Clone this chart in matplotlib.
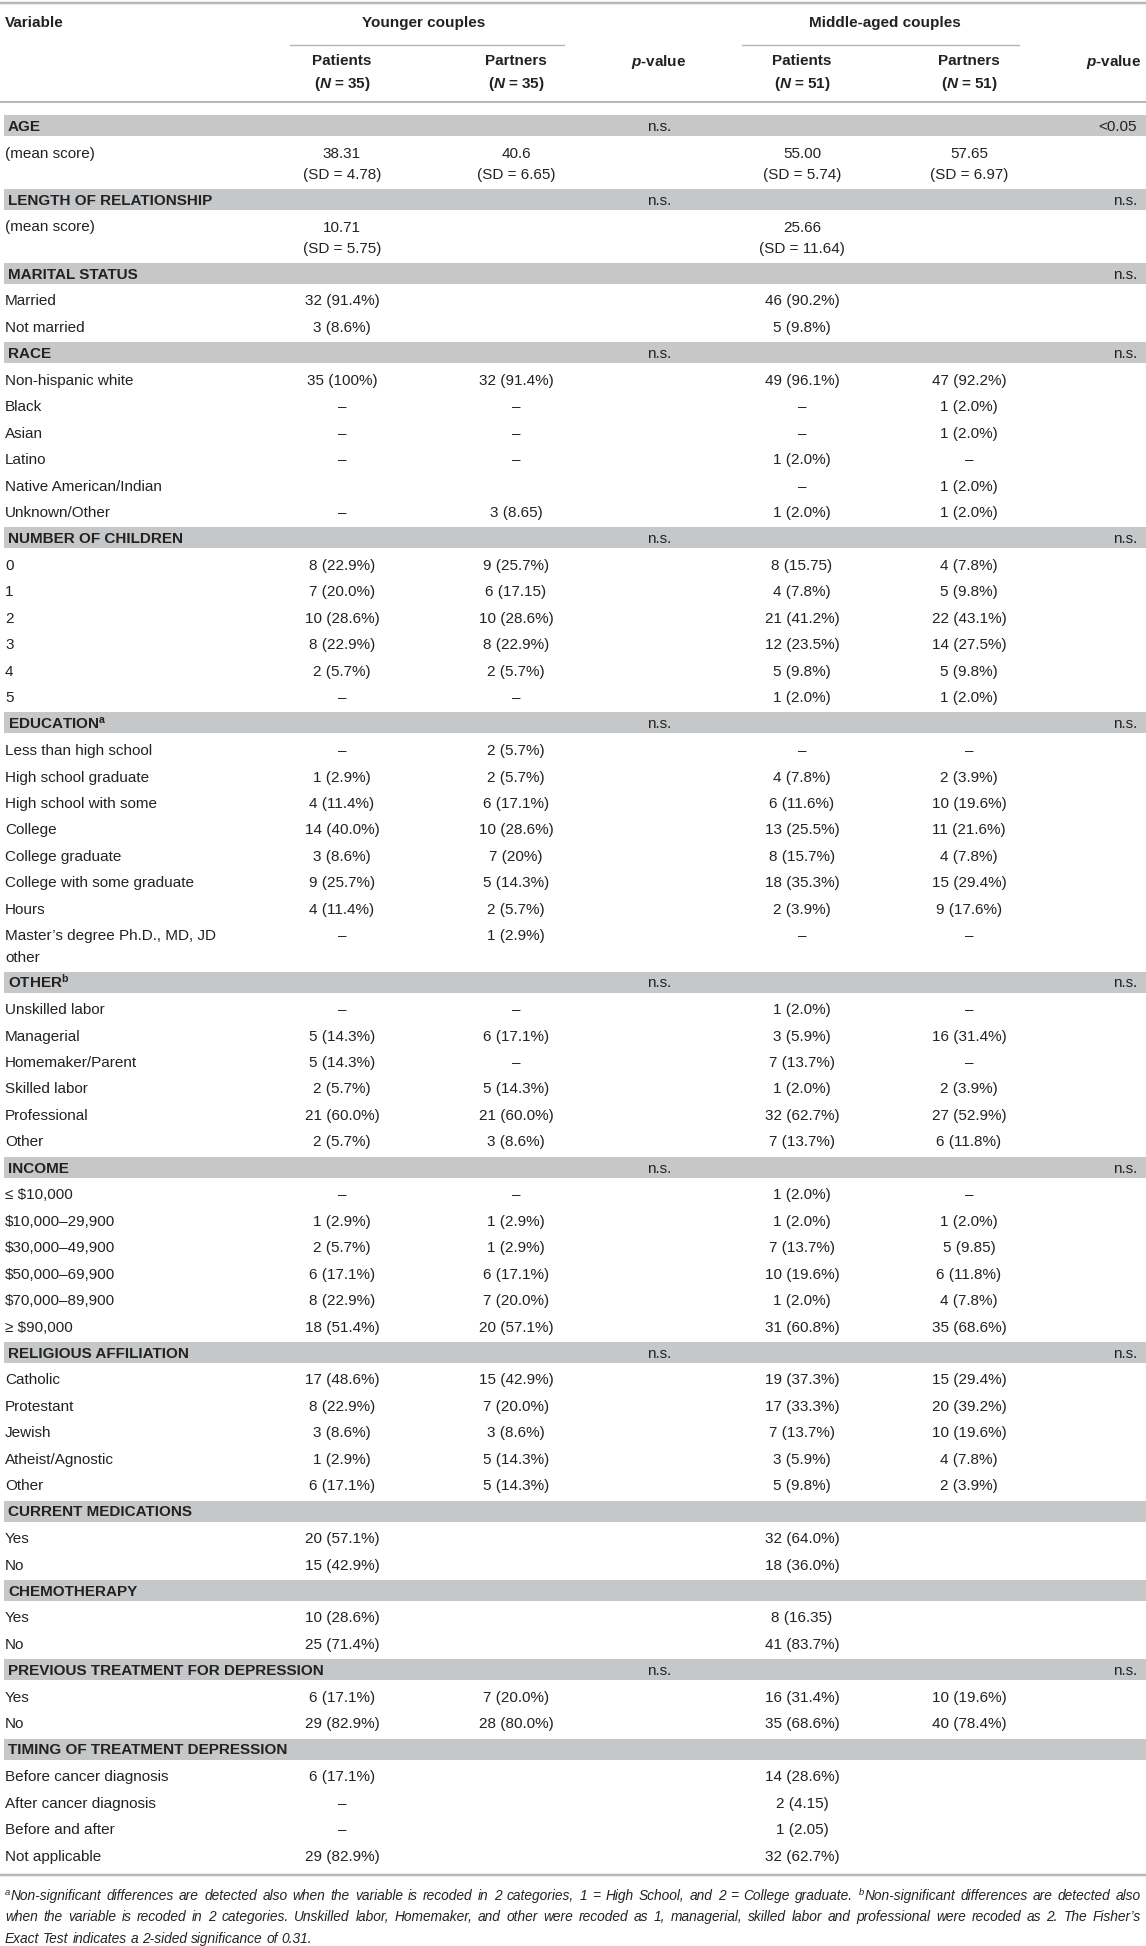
import matplotlib.pyplot as plt
from matplotlib.patches import Rectangle

# ---- table content -------------------------------------------------------
labels = [
    "AGE", "(mean score)",
    "LENGTH OF RELATIONSHIP", "(mean score)",
    "MARITAL STATUS", "Married", "Not married",
    "RACE", "Non-hispanic white", "Black", "Asian", "Latino",
    "Native American/Indian", "Unknown/Other",
    "NUMBER OF CHILDREN", "0", "1", "2", "3", "4", "5",
    "EDUCATION$^{\\mathbf{a}}$", "Less than high school", "High school graduate",
    "High school with some", "College", "College graduate",
    "College with some graduate", "Hours", "Master\u2019s degree Ph.D., MD, JD\nother",
    "OTHER$^{\\mathbf{b}}$", "Unskilled labor", "Managerial", "Homemaker/Parent",
    "Skilled labor", "Professional", "Other",
    "INCOME", "\u2264 $10,000", "$10,000\u201329,900", "$30,000\u201349,900",
    "$50,000\u201369,900", "$70,000\u201389,900", "\u2265 $90,000",
    "RELIGIOUS AFFILIATION", "Catholic", "Protestant", "Jewish",
    "Atheist/Agnostic", "Other",
    "CURRENT MEDICATIONS", "Yes", "No",
    "CHEMOTHERAPY", "Yes", "No",
    "PREVIOUS TREATMENT FOR DEPRESSION", "Yes", "No",
    "TIMING OF TREATMENT DEPRESSION", "Before cancer diagnosis",
    "After cancer diagnosis", "Before and after", "Not applicable",
]

D = "\u2013"

young_patients = [
    "", "38.31\n(SD = 4.78)",
    "", "10.71\n(SD = 5.75)",
    "", "32 (91.4%)", "3 (8.6%)",
    "", "35 (100%)", D, D, D, "", D,
    "", "8 (22.9%)", "7 (20.0%)", "10 (28.6%)", "8 (22.9%)", "2 (5.7%)", D,
    "", D, "1 (2.9%)", "4 (11.4%)", "14 (40.0%)", "3 (8.6%)", "9 (25.7%)", "4 (11.4%)", D,
    "", D, "5 (14.3%)", "5 (14.3%)", "2 (5.7%)", "21 (60.0%)", "2 (5.7%)",
    "", D, "1 (2.9%)", "2 (5.7%)", "6 (17.1%)", "8 (22.9%)", "18 (51.4%)",
    "", "17 (48.6%)", "8 (22.9%)", "3 (8.6%)", "1 (2.9%)", "6 (17.1%)",
    "", "20 (57.1%)", "15 (42.9%)",
    "", "10 (28.6%)", "25 (71.4%)",
    "", "6 (17.1%)", "29 (82.9%)",
    "", "6 (17.1%)", D, D, "29 (82.9%)",
]

young_partners = [
    "", "40.6\n(SD = 6.65)",
    "", "",
    "", "", "",
    "", "32 (91.4%)", D, D, D, "", "3 (8.65)",
    "", "9 (25.7%)", "6 (17.15)", "10 (28.6%)", "8 (22.9%)", "2 (5.7%)", D,
    "", "2 (5.7%)", "2 (5.7%)", "6 (17.1%)", "10 (28.6%)", "7 (20%)", "5 (14.3%)", "2 (5.7%)", "1 (2.9%)",
    "", D, "6 (17.1%)", D, "5 (14.3%)", "21 (60.0%)", "3 (8.6%)",
    "", D, "1 (2.9%)", "1 (2.9%)", "6 (17.1%)", "7 (20.0%)", "20 (57.1%)",
    "", "15 (42.9%)", "7 (20.0%)", "3 (8.6%)", "5 (14.3%)", "5 (14.3%)",
    "", "", "",
    "", "", "",
    "", "7 (20.0%)", "28 (80.0%)",
    "", "", "", "", "",
]

middle_patients = [
    "", "55.00\n(SD = 5.74)",
    "", "25.66\n(SD = 11.64)",
    "", "46 (90.2%)", "5 (9.8%)",
    "", "49 (96.1%)", D, D, "1 (2.0%)", D, "1 (2.0%)",
    "", "8 (15.75)", "4 (7.8%)", "21 (41.2%)", "12 (23.5%)", "5 (9.8%)", "1 (2.0%)",
    "", D, "4 (7.8%)", "6 (11.6%)", "13 (25.5%)", "8 (15.7%)", "18 (35.3%)", "2 (3.9%)", D,
    "", "1 (2.0%)", "3 (5.9%)", "7 (13.7%)", "1 (2.0%)", "32 (62.7%)", "7 (13.7%)",
    "", "1 (2.0%)", "1 (2.0%)", "7 (13.7%)", "10 (19.6%)", "1 (2.0%)", "31 (60.8%)",
    "", "19 (37.3%)", "17 (33.3%)", "7 (13.7%)", "3 (5.9%)", "5 (9.8%)",
    "", "32 (64.0%)", "18 (36.0%)",
    "", "8 (16.35)", "41 (83.7%)",
    "", "16 (31.4%)", "35 (68.6%)",
    "", "14 (28.6%)", "2 (4.15)", "1 (2.05)", "32 (62.7%)",
]

middle_partners = [
    "", "57.65\n(SD = 6.97)",
    "", "",
    "", "", "",
    "", "47 (92.2%)", "1 (2.0%)", "1 (2.0%)", D, "1 (2.0%)", "1 (2.0%)",
    "", "4 (7.8%)", "5 (9.8%)", "22 (43.1%)", "14 (27.5%)", "5 (9.8%)", "1 (2.0%)",
    "", D, "2 (3.9%)", "10 (19.6%)", "11 (21.6%)", "4 (7.8%)", "15 (29.4%)", "9 (17.6%)", D,
    "", D, "16 (31.4%)", D, "2 (3.9%)", "27 (52.9%)", "6 (11.8%)",
    "", D, "1 (2.0%)", "5 (9.85)", "6 (11.8%)", "4 (7.8%)", "35 (68.6%)",
    "", "15 (29.4%)", "20 (39.2%)", "10 (19.6%)", "4 (7.8%)", "2 (3.9%)",
    "", "", "",
    "", "", "",
    "", "10 (19.6%)", "40 (78.4%)",
    "", "", "", "", "",
]

# section header rows and their p-values
sections = [
    "AGE", "LENGTH OF RELATIONSHIP", "MARITAL STATUS", "RACE",
    "NUMBER OF CHILDREN", "EDUCATION$^{\\mathbf{a}}$", "OTHER$^{\\mathbf{b}}$",
    "INCOME", "RELIGIOUS AFFILIATION", "CURRENT MEDICATIONS", "CHEMOTHERAPY",
    "PREVIOUS TREATMENT FOR DEPRESSION", "TIMING OF TREATMENT DEPRESSION",
]
p_young = ["n.s.", "n.s.", "", "n.s.", "n.s.", "n.s.", "n.s.",
           "n.s.", "n.s.", "", "", "n.s.", ""]
p_middle = ["<0.05", "n.s.", "n.s.", "n.s.", "n.s.", "n.s.", "n.s.",
            "n.s.", "n.s.", "", "", "n.s.", ""]

groups = ["Younger couples", "Middle-aged couples"]
sub_heads = ["Patients", "Partners", "Patients", "Partners"]
sub_n = ["35", "35", "51", "51"]

# "^x" in front of a word marks a superscript footnote letter
footnote = [
    "^aNon-significant differences are detected also when the variable is recoded "
    "in 2 categories, 1 = High School, and 2 = College graduate. ^bNon-significant "
    "differences are detected also",
    "when the variable is recoded in 2 categories. Unskilled labor, Homemaker, and other "
    "were recoded as 1, managerial, skilled labor and professional were recoded as 2. "
    "The Fisher\u2019s",
    "Exact Test indicates a 2-sided significance of 0.31.",
]

# ---- drawing -------------------------------------------------------------
W, H, DPI = 1146, 1946, 100
PX = 72 / DPI
FS = 15.2 * PX
FN = 13.8 * PX
TXT = "#222222"
BAND = "#c6c7c9"
LINE = "#b7b7b7"

plt.rcParams['font.family'] = ['Liberation Sans', 'DejaVu Sans']
plt.rcParams['mathtext.fontset'] = 'custom'
plt.rcParams['mathtext.rm'] = 'Liberation Sans'
plt.rcParams['mathtext.it'] = 'Liberation Sans:italic'
plt.rcParams['mathtext.bf'] = 'Liberation Sans:bold'
plt.rcParams['mathtext.bfit'] = 'Liberation Sans:italic:bold'

fig = plt.figure(figsize=(W / DPI, H / DPI), dpi=DPI)
ax = fig.add_axes([0, 0, 1, 1])
ax.set_xlim(0, W)
ax.set_ylim(H, 0)
ax.axis('off')
renderer = fig.canvas.get_renderer()

X_LAB = 5
X_SEC = 8
X_COLS = [342, 516, 802, 969]
X_PY = 659
X_PM = 1137
ROW = 26.45
LINE2 = 21.5
BASE = 5.4   # baseline offset from text centre

# header
ax.plot([0, W], [3, 3], color=LINE, lw=2.5 * PX, solid_capstyle='butt')
ax.text(X_LAB, 22 + BASE, "Variable", fontsize=FS, weight='bold', color=TXT, va='baseline')
ax.text(424, 22 + BASE, groups[0], fontsize=FS, weight='bold', color=TXT, va='baseline', ha='center')
ax.text(885, 22 + BASE, groups[1], fontsize=FS, weight='bold', color=TXT, va='baseline', ha='center')
ax.plot([290, 564], [45, 45], color=LINE, lw=1.4 * PX)
ax.plot([742, 1019], [45, 45], color=LINE, lw=1.4 * PX)
for x, head, n in zip(X_COLS, sub_heads, sub_n):
    ax.text(x, 60 + BASE, head, fontsize=FS, weight='bold', color=TXT, va='baseline', ha='center')
    ax.text(x, 83 + BASE, "($\\mathbfit{N}$ = " + n + ")", fontsize=FS, weight='bold',
            color=TXT, va='baseline', ha='center')
ax.text(X_PY, 61 + BASE, "$\\mathbfit{p}$-value", fontsize=FS, weight='bold', color=TXT,
        va='baseline', ha='center')
ax.text(1141, 61 + BASE, "$\\mathbfit{p}$-value", fontsize=FS, weight='bold', color=TXT,
        va='baseline', ha='right')
ax.plot([0, W], [102, 102], color=LINE, lw=2 * PX, solid_capstyle='butt')

# body rows
y = 112.25
for i, lab in enumerate(labels):
    if lab in sections:
        k = sections.index(lab)
        ax.add_patch(Rectangle((4, y + 2.75), W - 4, 21, color=BAND, lw=0))
        yc = y + 13.25 + BASE
        ax.text(X_SEC, yc, lab, fontsize=FS, weight='bold', color=TXT, va='baseline')
        ax.text(X_PY, yc, p_young[k], fontsize=FS, color=TXT, va='baseline', ha='center')
        ax.text(X_PM, yc, p_middle[k], fontsize=FS, color=TXT, va='baseline', ha='right')
        y += ROW
        continue
    cells = [young_patients[i], young_partners[i], middle_patients[i], middle_partners[i]]
    nl = max(c.count("\n") + 1 for c in cells + [lab])
    for j, line in enumerate(lab.split("\n")):
        ax.text(X_LAB, y + 13.5 + j * LINE2 + BASE, line, fontsize=FS, color=TXT, va='baseline')
    for x, c in zip(X_COLS, cells):
        for j, line in enumerate(c.split("\n")):
            ax.text(x, y + 13.5 + j * LINE2 + BASE, line, fontsize=FS, color=TXT,
                    va='baseline', ha='center')
    y += ROW + (nl - 1) * 21

ax.plot([0, W], [y + 7, y + 7], color=LINE, lw=2.5 * PX, solid_capstyle='butt')

# footnote, justified like the journal layout
fy = y + 7 + 25
for n, para in enumerate(footnote):
    items = []
    for w in para.split(" "):
        sup = None
        if w.startswith("^"):
            sup = ax.text(0, fy - 5, w[1], fontsize=FN * 0.68, style='italic',
                          color=TXT, va='baseline')
            w = w[2:]
        t = ax.text(0, fy, w, fontsize=FN, style='italic', color=TXT, va='baseline')
        sw = sup.get_window_extent(renderer).width + 0.5 if sup else 0
        items.append((sup, sw, t, t.get_window_extent(renderer).width))
    total = sum(sw + tw for _, sw, _, tw in items)
    if n < len(footnote) - 1:
        gap = (1141 - X_LAB - total) / (len(items) - 1)
    else:
        gap = 0.278 * 13.8
    x = X_LAB
    for sup, sw, t, tw in items:
        if sup:
            sup.set_x(x)
        t.set_x(x + sw)
        x += sw + tw + gap
    fy += 21.3

fig.savefig("out.png", dpi=DPI)
